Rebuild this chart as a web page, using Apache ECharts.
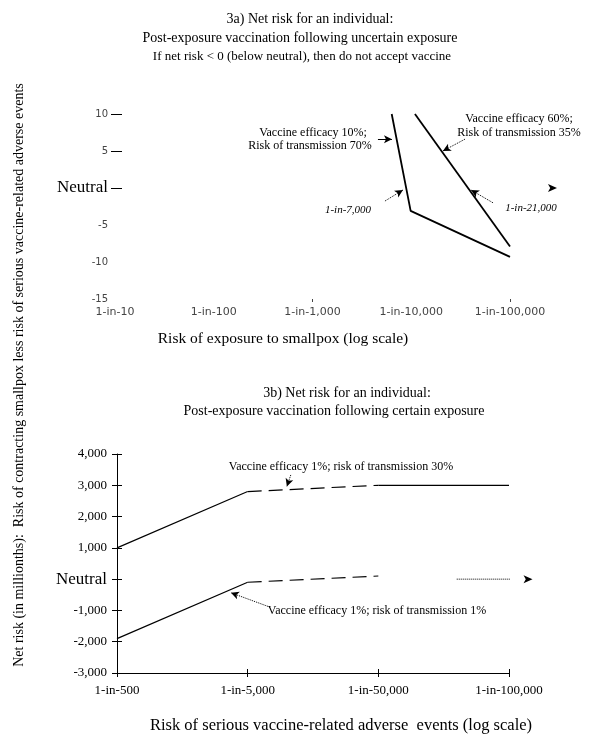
<!DOCTYPE html>
<html><head><meta charset="utf-8">
<script src="https://cdn.jsdelivr.net/npm/echarts@6/dist/echarts.min.js"></script>
<style>html,body{margin:0;padding:0;background:#fff}#c{width:600px;height:750px}</style>
</head><body><div id="c"></div>
<script>
// ---------- Panel 3a data ----------
const aXTicks = [10, 100, 1000, 10000, 100000];
const aXLabels = ['1-in-10', '1-in-100', '1-in-1,000', '1-in-10,000', '1-in-100,000'];
const aLineVE10 = [[6340, 10], [9860, -3.1], [100000, -9.3]];   // efficacy 10%, transmission 70%
const aLineVE60 = [[10900, 10], [100000, -7.9]];                 // efficacy 60%, transmission 35%
const aArrows = [
  [[4600, 6.6], [6380, 6.6]],
  [[35000, 6.6], [20900, 5.0]],
  [[5420, -1.76], [8240, -0.27]],
  [[67300, -2.0], [40300, -0.27]]
];
const aNeutralArrow = [[192000, 0], [299000, 0]];

// ---------- Panel 3b data ----------
const bCategories = ['1-in-500', '1-in-5,000', '1-in-50,000', '1-in-100,000'];
const bUpper = [1000, 2800, 3000, 3000];     // efficacy 1%, transmission 30%
const bUpperStyle = ['solid', 'dashed', 'solid'];
const bLower = [-1900, -100, 100];            // efficacy 1%, transmission 1%
const bLowerStyle = ['solid', 'dashed'];
const bArrows = [
  [[1.33, 3330], [1.30, 2960]],
  [[1.171, -895], [0.872, -435]]
];
const bNeutralArrow = [[2.60, 0], [3.18, 0]];

const SERIF = '"Liberation Serif", "Times New Roman", serif';
const SANS = '"DejaVu Sans", sans-serif';

function segs(values, styles, xi, yi, width) {
  const out = [];
  for (let i = 0; i < styles.length; i++) {
    if (values[i] == null || values[i + 1] == null) continue;
    out.push({
      type: 'line', xAxisIndex: xi, yAxisIndex: yi, symbol: 'none', silent: true,
      data: [[i, values[i]], [i + 1, values[i + 1]]],
      lineStyle: { color: '#000', width: width, type: styles[i] === 'dashed' ? [14, 7] : 'solid' }
    });
  }
  return out;
}
function arrowSeries(list, xi, yi, styleFn) {
  return {
    type: 'line', xAxisIndex: xi, yAxisIndex: yi, data: [], silent: true, clip: false,
    markLine: {
      silent: true, animation: false, symbol: ['none', 'arrow'], symbolSize: [6, 8],
      label: { show: false },
      data: list.map((a, k) => [
        { coord: a[0], lineStyle: styleFn(k) },
        { coord: a[1] }
      ])
    }
  };
}
// horizontal arrow that may reach outside the plotting area
function hArrow(pts, xi, yi, lineType, width) {
  return {
    type: 'line', xAxisIndex: xi, yAxisIndex: yi, silent: true, clip: false, showSymbol: true,
    data: [
      { value: pts[0], symbol: 'none' },
      { value: pts[1], symbol: 'arrow', symbolSize: [6, 9], symbolRotate: -90, itemStyle: { color: '#000' } }
    ],
    lineStyle: { color: '#000', width: width, type: lineType }
  };
}

const chart = echarts.init(document.getElementById('c'));
const neutralRich = { n: { fontSize: 17, fontFamily: SERIF, color: '#000' } };

const option = {
  animation: false,
  backgroundColor: '#fff',
  grid: [
    { left: 115, right: 90, top: 114, height: 185 },
    { left: 117, right: 91, top: 454, height: 219 }
  ],
  xAxis: [
    {
      gridIndex: 0, type: 'log', logBase: 10, min: 10, max: 100000, position: 'bottom',
      axisLine: { show: false, onZero: false }, splitLine: { show: false },
      axisTick: { show: true, customValues: [1000, 100000], length: 3, lineStyle: { color: '#444' } },
      axisLabel: {
        customValues: aXTicks, margin: 8, fontSize: 11, fontFamily: SANS, color: '#444',
        formatter: v => aXLabels[Math.round(Math.log10(v)) - 1]
      }
    },
    {
      gridIndex: 1, type: 'value', min: 0, max: 3, interval: 1, position: 'bottom',
      axisLine: { show: true, onZero: false, lineStyle: { color: '#000', width: 1 } },
      axisTick: { show: true, length: 4, lineStyle: { color: '#000' } },
      splitLine: { show: false },
      axisLabel: { margin: 11, fontSize: 13, fontFamily: SERIF, color: '#000', formatter: v => bCategories[v] }
    },
    {
      gridIndex: 1, type: 'value', min: 0, max: 3, interval: 1, position: 'bottom',
      axisLine: { show: false, onZero: false }, splitLine: { show: false }, axisLabel: { show: false },
      axisTick: { show: true, inside: true, length: 4, lineStyle: { color: '#000' } }
    }
  ],
  yAxis: [
    {
      gridIndex: 0, type: 'value', min: -15, max: 10, interval: 5, offset: -7, position: 'left',
      axisLine: { show: false, onZero: false }, splitLine: { show: false },
      axisTick: { show: true, customValues: [0, 5, 10], length: 11, lineStyle: { color: '#000' } },
      axisLabel: {
        margin: 14, fontSize: 10, fontFamily: SANS, color: '#444', rich: neutralRich,
        formatter: v => v === 0 ? '{n|Neutral}' : String(v)
      }
    },
    {
      gridIndex: 1, type: 'value', min: -3000, max: 4000, interval: 1000, position: 'left',
      axisLine: { show: true, onZero: false, lineStyle: { color: '#000', width: 1 } },
      axisTick: { show: true, length: 5, lineStyle: { color: '#000' } },
      splitLine: { show: false },
      axisLabel: {
        margin: 10, fontSize: 13, fontFamily: SERIF, color: '#000', rich: neutralRich,
        formatter: v => v === 0 ? '{n|Neutral}' : v.toLocaleString('en-US')
      }
    },
    {
      gridIndex: 1, type: 'value', min: -3000, max: 4000, interval: 1000, position: 'left',
      axisLine: { show: false, onZero: false }, splitLine: { show: false }, axisLabel: { show: false },
      axisTick: { show: true, inside: true, length: 5, lineStyle: { color: '#000' } }
    }
  ],
  series: [
    { type: 'line', xAxisIndex: 0, yAxisIndex: 0, symbol: 'none', data: aLineVE10, lineStyle: { color: '#000', width: 1.8 } },
    { type: 'line', xAxisIndex: 0, yAxisIndex: 0, symbol: 'none', data: aLineVE60, lineStyle: { color: '#000', width: 1.8 } },
    arrowSeries(aArrows, 0, 0, k => ({ color: '#000', width: 1, type: k === 0 ? 'solid' : 'dotted' })),
    hArrow(aNeutralArrow, 0, 0, 'solid', 1.5),
    ...segs(bUpper, bUpperStyle, 1, 1, 1.2),
    ...segs(bLower, bLowerStyle, 1, 1, 1.2),
    arrowSeries(bArrows, 1, 1, () => ({ color: '#000', width: 1, type: 'dotted' })),
    hArrow(bNeutralArrow, 1, 1, 'dotted', 1)
  ],
  graphic: [
    txt('3a) Net risk for an individual:', 310, 19, 14),
    txt('Post-exposure vaccination following uncertain exposure', 300, 38, 14),
    txt('If net risk < 0 (below neutral), then do not accept vaccine', 302, 57, 13),
    txt('Vaccine efficacy 10%;', 313, 133, 12),
    txt('Risk of transmission 70%', 310, 146, 12),
    txt('Vaccine efficacy 60%;', 519, 119, 12),
    txt('Risk of transmission 35%', 519, 133, 12),
    txt('1-in-7,000', 348, 210, 11, 'italic'),
    txt('1-in-21,000', 531, 208, 11, 'italic'),
    txt('Risk of exposure to smallpox (log scale)', 283, 339, 15.5),
    txt('3b) Net risk for an individual:', 347, 393, 14),
    txt('Post-exposure vaccination following certain exposure', 334, 411, 14),
    txt('Vaccine efficacy 1%; risk of transmission 30%', 341, 467, 12),
    txt('Vaccine efficacy 1%; risk of transmission 1%', 377, 611, 12),
    txt('Risk of serious vaccine-related adverse  events (log scale)', 341, 726, 16.5),
    Object.assign(txt('Net risk (in millionths):  Risk of contracting smallpox less risk of serious vaccine-related adverse events', 19, 375, 14), { rotation: Math.PI / 2 })
  ]
};
function txt(t, x, y, size, style) {
  return {
    type: 'text', x: x, y: y, silent: true,
    style: {
      text: t, fill: '#000', font: (style ? style + ' ' : '') + size + 'px ' + SERIF,
      align: 'center', verticalAlign: 'middle', textAlign: 'center', textVerticalAlign: 'middle'
    }
  };
}
chart.setOption(option);
</script>
</body></html>
